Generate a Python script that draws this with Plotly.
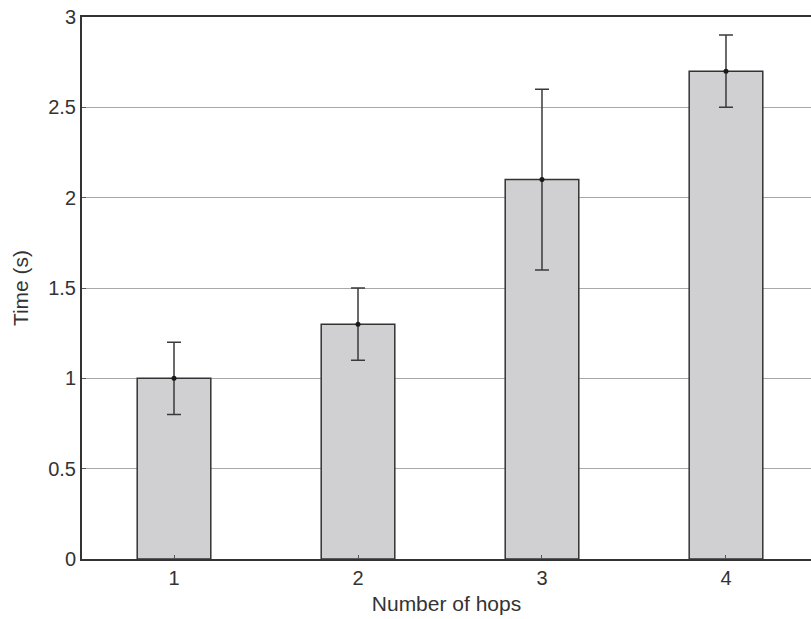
import plotly.graph_objects as go

hops = [1, 2, 3, 4]
mean_time = [1.0, 1.3, 2.1, 2.7]
err_time = [0.2, 0.2, 0.5, 0.2]
y_ticks = [0, 0.5, 1, 1.5, 2, 2.5, 3]
y_tick_labels = ["0", "0.5", "1", "1.5", "2", "2.5", "3"]

fig = go.Figure()
fig.add_trace(go.Bar(
    x=hops, y=mean_time, width=0.4,
    marker=dict(color="#d0d0d2", line=dict(color="#333333", width=1.5)),
    showlegend=False,
))
fig.add_trace(go.Scatter(
    x=hops, y=mean_time, mode="markers",
    marker=dict(color="#1a1a1a", size=5),
    error_y=dict(type="data", array=err_time, visible=True,
                 color="#3a3a3a", thickness=1.5, width=7),
    showlegend=False,
))

font = dict(family="Liberation Sans, Arial, sans-serif", size=20, color="#333333")
title_font = dict(family="Liberation Sans, Arial, sans-serif", size=21, color="#333333")
fig.update_layout(
    width=811, height=619,
    margin=dict(l=82, r=0, t=17, b=60),
    paper_bgcolor="white", plot_bgcolor="white",
    font=font,
    xaxis=dict(
        range=[0.5, 4.462], tickvals=hops, ticktext=[str(h) for h in hops],
        showline=True, linecolor="#333333", linewidth=2, mirror=True,
        ticks="inside", ticklen=4, tickcolor="#555555",
        showgrid=False, zeroline=False,
        title=dict(text="Number of hops", standoff=8, font=title_font),
    ),
    yaxis=dict(
        range=[0, 3], tickvals=y_ticks, ticktext=y_tick_labels,
        showline=True, linecolor="#333333", linewidth=2,
        ticks="inside", ticklen=4, tickcolor="#555555",
        showgrid=True, gridcolor="#a8a8a8", gridwidth=1,
        zeroline=False,
        title=dict(text="Time (s)", standoff=14, font=title_font),
    ),
)
fig.write_html("out.html", config={"displayModeBar": False},
               post_script="document.body.style.margin='0';document.body.style.overflow='hidden';")
